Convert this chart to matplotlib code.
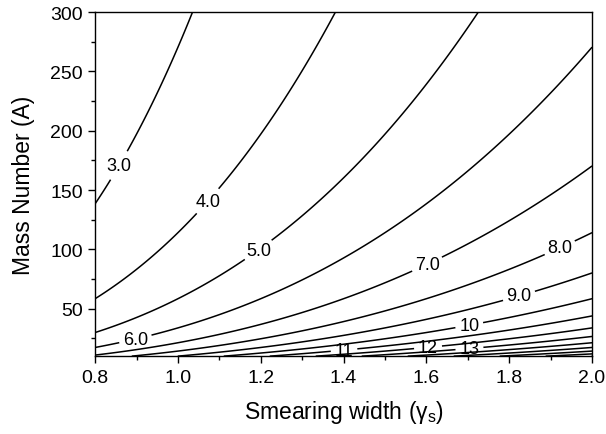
import numpy as np
import matplotlib
matplotlib.use("Agg")
import matplotlib.pyplot as plt
from matplotlib.ticker import MultipleLocator, FormatStrFormatter

plt.rcParams['font.family'] = ['Liberation Sans', 'DejaVu Sans']
plt.rcParams['mathtext.fontset'] = 'custom'
plt.rcParams['mathtext.rm'] = 'Liberation Sans'

# ---- data ----
levels = [3, 4, 5, 6, 7, 8, 9, 10, 11, 12, 13, 14, 15, 16, 17, 18]
gamma_range = [0.8, 2.0]          # smearing width (gamma_s)
mass_range = [10, 300]            # mass number A
scale_coeff = 19.4

label_levels = [3, 4, 5, 6, 7, 8, 9, 10, 11, 12, 13]
label_gamma = [0.861, 1.074, 1.195, 0.897, 1.604, 1.925, 1.825, 1.704, 1.401, 1.604, 1.704]
label_mass = [170, 140, 99, 24.8, 85.7, 99, 59, 35, 15.5, 17, 16]

# ---- field ----
g = np.linspace(gamma_range[0], gamma_range[1], 500)
a = np.linspace(mass_range[0], mass_range[1], 800)
G, Am = np.meshgrid(g, a)
Z = scale_coeff * G * Am ** (-1.0 / 3.0)

fig = plt.figure(figsize=(6.06, 4.35), dpi=100)
ax = fig.add_axes([0.157, 0.179, 0.820, 0.791])

cs = ax.contour(G, Am, Z, levels=levels, colors='black', linewidths=1.1)

def fmt(v):
    return f"{v:.1f}" if v < 10 else f"{v:.0f}"

pos = list(zip(label_gamma, label_mass))
texts = ax.clabel(cs, levels=label_levels, fmt=fmt, fontsize=13,
                  inline=True, inline_spacing=4, manual=pos)
for t in texts:
    t.set_rotation(0)

ax.set_xlim(*gamma_range)
ax.set_ylim(*mass_range)
ax.xaxis.set_major_locator(MultipleLocator(0.2))
ax.xaxis.set_minor_locator(MultipleLocator(0.1))
ax.set_yticks([50, 100, 150, 200, 250, 300])
ax.yaxis.set_minor_locator(MultipleLocator(25))
ax.xaxis.set_major_formatter(FormatStrFormatter('%.1f'))

ax.tick_params(which='both', direction='out', top=False, right=False, labelsize=14)
ax.tick_params(which='major', length=5, width=1.0, pad=4)
ax.tick_params(which='minor', length=3, width=1.0)
for s in ax.spines.values():
    s.set_linewidth(1.0)

ax.set_xlabel("Smearing width (γ$_\\mathrm{s}$)", fontsize=16.5, labelpad=9)
ax.set_ylabel("Mass Number (A)", fontsize=16.5, labelpad=11)

fig.savefig("out.png", dpi=100)
